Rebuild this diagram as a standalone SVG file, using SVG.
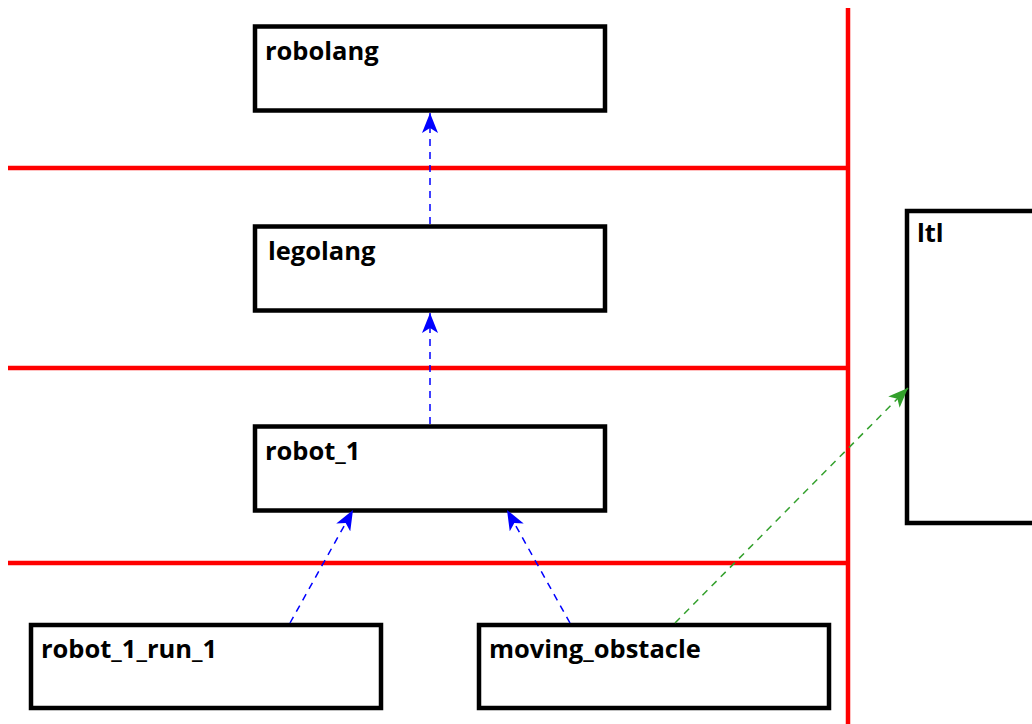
<svg xmlns="http://www.w3.org/2000/svg" width="1032" height="724" viewBox="0 0 1032 724">
<style>
.box{fill:#fff;stroke:#000;stroke-width:4.5}
.lbl{font-family:"Open Sans","Noto Sans",sans-serif;font-weight:bold;font-size:25.5px;fill:#000}
.sep{stroke:#ff0000;stroke-width:4.5;fill:none}
.dep{stroke:#0000ff;stroke-width:1.5;stroke-dasharray:7,6;fill:none}
.dep2{stroke:#33a02c;stroke-width:1.5;stroke-dasharray:7,6;fill:none}
</style>
<defs>
<marker id="ab" viewBox="0 0 20 16" refX="20" refY="8" markerWidth="20" markerHeight="16" markerUnits="userSpaceOnUse" orient="auto">
<path d="M20,8 L0,0 L5,8 L0,16 Z" fill="#0000ff"/>
</marker>
<marker id="ag" viewBox="0 0 20 16" refX="20" refY="8" markerWidth="20" markerHeight="16" markerUnits="userSpaceOnUse" orient="auto">
<path d="M20,8 L0,0 L5,8 L0,16 Z" fill="#33a02c"/>
</marker>
</defs>
<rect width="1032" height="724" fill="#fff"/>
<g id="separators">
<line class="sep" x1="8" y1="168" x2="848" y2="168"/>
<line class="sep" x1="8" y1="368" x2="848" y2="368"/>
<line class="sep" x1="8" y1="563" x2="848" y2="563"/>
<line class="sep" x1="848" y1="8" x2="848" y2="724"/>
</g>
<g id="robolang"><rect class="box" x="255" y="26.5" width="350" height="84"/><text class="lbl" x="265" y="60">robolang</text></g>
<g id="legolang"><rect class="box" x="255" y="226.5" width="350" height="84"/><text class="lbl" x="268" y="260">legolang</text></g>
<g id="robot_1"><rect class="box" x="255" y="426.5" width="350" height="84"/><text class="lbl" x="265" y="460">robot_1</text></g>
<g id="robot_1_run_1"><rect class="box" x="31" y="625" width="350" height="83"/><text class="lbl" x="41" y="658">robot_1_run_1</text></g>
<g id="moving_obstacle"><rect class="box" x="479" y="625" width="350" height="83"/><text class="lbl" x="489" y="658">moving_obstacle</text></g>
<g id="ltl"><rect class="box" x="907" y="211" width="140" height="312"/><text class="lbl" x="917" y="242">ltl</text></g>
<g id="connectors">
<line class="dep" x1="430" y1="224" x2="430" y2="113" marker-end="url(#ab)"/>
<line class="dep" x1="430" y1="424" x2="430" y2="313" marker-end="url(#ab)"/>
<line class="dep" x1="290" y1="623" x2="353" y2="510" marker-end="url(#ab)"/>
<line class="dep" x1="570" y1="623" x2="507" y2="510" marker-end="url(#ab)"/>
<line class="dep2" x1="675" y1="623" x2="908" y2="388" marker-end="url(#ag)"/>
</g>
</svg>
